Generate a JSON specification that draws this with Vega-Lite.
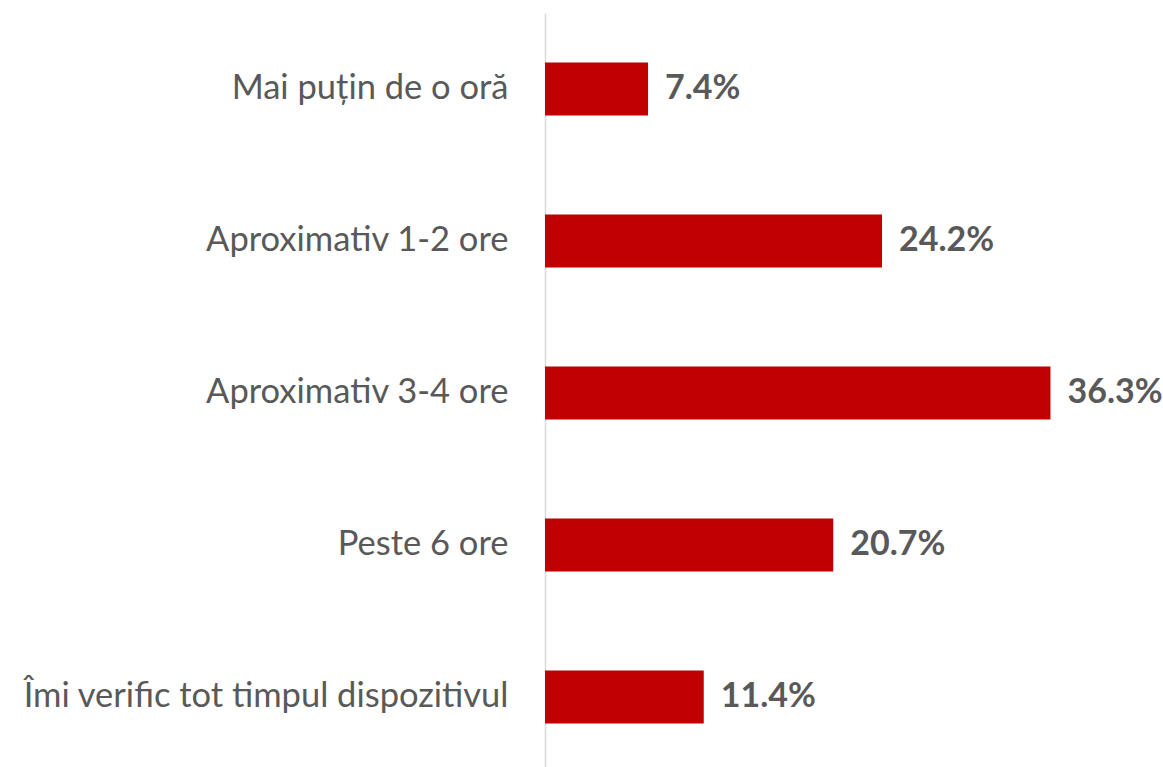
{
  "$schema": "https://vega.github.io/schema/vega-lite/v6.json",
  "autosize": "none",
  "width": 557,
  "height": 760,
  "padding": {"left": 545, "top": 13, "right": 61, "bottom": 0},
  "background": "white",
  "config": {"view": {"stroke": null}},
  "data": {"values": [
    {"cat": "Mai puțin de o oră", "val": 7.4, "label": "7.4%"},
    {"cat": "Aproximativ 1-2 ore", "val": 24.2, "label": "24.2%"},
    {"cat": "Aproximativ 3-4 ore", "val": 36.3, "label": "36.3%"},
    {"cat": "Peste 6 ore", "val": 20.7, "label": "20.7%"},
    {"cat": "Îmi verific tot timpul dispozitivul", "val": 11.4, "label": "11.4%"}
  ]},
  "encoding": {
    "y": {"field": "cat", "type": "nominal", "sort": null,
      "scale": {"paddingInner": 0.65, "paddingOuter": 0.325},
      "axis": {"title": null, "ticks": false, "domainColor": "#d9d9d9", "domainWidth": 1.5,
        "labelFont": "Lato", "labelFontSize": 34.5, "labelColor": "#595959", "labelPadding": 37, "labelLimit": 600}},
    "x": {"field": "val", "type": "quantitative", "scale": {"domain": [0, 40]}, "axis": null}
  },
  "layer": [
    {"mark": {"type": "bar", "color": "#C00000"}},
    {"mark": {"type": "text", "align": "left", "dx": 17, "font": "Lato", "fontSize": 34, "fontWeight": "bold", "color": "#595959"},
     "encoding": {"text": {"field": "label"}}}
  ]
}
